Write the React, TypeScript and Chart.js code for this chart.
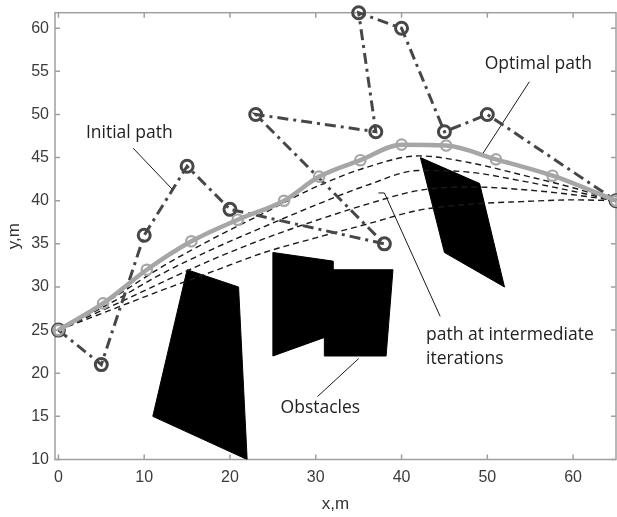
import React, { useEffect, useRef } from "react";
import { Chart, registerables } from "chart.js";

Chart.register(...registerables);

// Axis ticks
const xTicks = [0, 10, 20, 30, 40, 50, 60];
const yTicks = [10, 15, 20, 25, 30, 35, 40, 45, 50, 55, 60];

// Initial (random) path through the waypoints
const initialX = [0, 5, 10, 15, 20, 38, 23, 37, 35, 40, 45, 50, 65];
const initialY = [25, 21, 36, 44, 39, 35, 50, 48, 61.8, 60, 48, 50, 40];

// Optimal path after convergence
const optimalX = [0, 5.2, 10.3, 15.5, 20.9, 26.3, 30.4, 35.2, 40, 45.2, 51, 57.6, 65];
const optimalY = [25, 28.1, 32, 35.3, 37.8, 40, 42.8, 44.7, 46.5, 46.4, 44.8, 42.9, 40];

// Paths at intermediate iterations (shared x grid)
const iterX = [0, 6, 12, 18, 24, 30, 36, 42, 48, 54, 60, 65];
const iter1Y = [25, 27.3, 29.6, 31.8, 34.0, 35.7, 37.3, 38.9, 39.6, 39.9, 40.1, 40];
const iter2Y = [25, 27.7, 30.5, 33.2, 35.6, 37.7, 39.6, 41.2, 41.6, 41.3, 40.7, 40];
const iter3Y = [25, 28.1, 31.5, 34.4, 37.0, 39.5, 41.8, 43.5, 43.3, 42.3, 41.1, 40];
const iter4Y = [25, 28.5, 32.3, 35.6, 38.6, 41.6, 43.9, 45.2, 44.4, 43.0, 41.5, 40];

// Obstacles (polygon vertices)
const obstacle1X = [15, 21, 22, 11];
const obstacle1Y = [32, 30, 10, 15];
const obstacle2X = [25, 32, 32, 25];
const obstacle2Y = [34, 33, 24.5, 22];
const obstacle3X = [31, 39, 38.2, 31];
const obstacle3Y = [32, 32, 22, 22];
const obstacle4X = [42.2, 49.1, 52, 45];
const obstacle4Y = [45, 42, 30, 34];

// Callout leader lines
const leaderInitialX = [8.7, 13.3];
const leaderInitialY = [46.1, 41.3];
const leaderOptimalX = [54.9, 49.3];
const leaderOptimalY = [53.8, 45.2];
const leaderIterX = [37.3, 38.0, 44.5];
const leaderIterY = [40.9, 40.9, 26.6];
const leaderObstX = [30.2, 35.0];
const leaderObstY = [17.3, 21.7];

// Callout texts
const calloutTexts = ["Initial path", "Optimal path", "path at intermediate", "iterations", "Obstacles"];
const calloutX = [3.2, 49.7, 42.85, 42.85, 25.9];
const calloutY = [47.9, 55.8, 24.4, 21.7, 16.0];

const pts = (xs: number[], ys: number[]) => xs.map((x, i) => ({ x, y: ys[i] }));
const closed = (xs: number[], ys: number[]) => {
  const p = pts(xs, ys);
  return [...p, p[0]];
};

const framePlugin = {
  id: "frame",
  beforeDatasetsDraw(chart: any) {
    const { ctx, chartArea: a, scales } = chart;
    ctx.save();
    ctx.strokeStyle = "#a0a0a0";
    ctx.lineWidth = 1.5;
    ctx.strokeRect(a.left, a.top, a.right - a.left, a.bottom - a.top);
    const L = 5;
    ctx.beginPath();
    xTicks.forEach((v) => {
      const px = scales.x.getPixelForValue(v);
      ctx.moveTo(px, a.bottom);
      ctx.lineTo(px, a.bottom - L);
      ctx.moveTo(px, a.top);
      ctx.lineTo(px, a.top + L);
    });
    yTicks.forEach((v) => {
      const py = scales.y.getPixelForValue(v);
      ctx.moveTo(a.left, py);
      ctx.lineTo(a.left + L, py);
      ctx.moveTo(a.right, py);
      ctx.lineTo(a.right - L, py);
    });
    ctx.stroke();
    ctx.restore();
  },
  afterDatasetsDraw(chart: any) {
    const { ctx, scales } = chart;
    ctx.save();
    ctx.fillStyle = "#222";
    ctx.font = '17.5px "Open Sans"';
    ctx.textAlign = "left";
    ctx.textBaseline = "middle";
    calloutTexts.forEach((t, i) => {
      ctx.fillText(t, scales.x.getPixelForValue(calloutX[i]), scales.y.getPixelForValue(calloutY[i]));
    });
    ctx.restore();
  },
};

export default function App() {
  const ref = useRef<HTMLCanvasElement | null>(null);

  useEffect(() => {
    if (!ref.current) return;

    const iterStyle = {
      borderColor: "#1a1a1a",
      borderWidth: 1.4,
      borderDash: [6, 4],
      pointRadius: 0,
      cubicInterpolationMode: "monotone" as const,
      fill: false,
    };
    const obstacleStyle = {
      borderColor: "#000",
      backgroundColor: "#000",
      borderWidth: 1,
      pointRadius: 0,
      fill: "shape" as const,
      tension: 0,
    };
    const leaderStyle = {
      borderColor: "#1a1a1a",
      borderWidth: 1,
      pointRadius: 0,
      fill: false,
      tension: 0,
    };

    const chart = new Chart(ref.current, {
      type: "line",
      data: {
        datasets: [
          {
            label: "Optimal path",
            data: pts(optimalX, optimalY),
            borderColor: "#a6a6a6",
            borderWidth: 4.5,
            pointRadius: 5.2,
            pointBorderWidth: 2.2,
            pointBorderColor: "#a6a6a6",
            pointBackgroundColor: "rgba(255,255,255,0)",
            cubicInterpolationMode: "monotone",
            fill: false,
            clip: false,
          },
          {
            label: "Initial path",
            data: pts(initialX, initialY),
            borderColor: "#474747",
            borderWidth: 3,
            borderDash: [11, 5, 3, 5],
            pointRadius: 6,
            pointBorderWidth: 3,
            pointBorderColor: "#474747",
            pointBackgroundColor: "rgba(255,255,255,0)",
            tension: 0,
            fill: false,
            clip: false,
          },
          { label: "iter4", data: pts(iterX, iter4Y), ...iterStyle },
          { label: "iter3", data: pts(iterX, iter3Y), ...iterStyle },
          { label: "iter2", data: pts(iterX, iter2Y), ...iterStyle },
          { label: "iter1", data: pts(iterX, iter1Y), ...iterStyle },
          { label: "obs1", data: closed(obstacle1X, obstacle1Y), ...obstacleStyle },
          { label: "obs2", data: closed(obstacle2X, obstacle2Y), ...obstacleStyle },
          { label: "obs3", data: closed(obstacle3X, obstacle3Y), ...obstacleStyle },
          { label: "obs4", data: closed(obstacle4X, obstacle4Y), ...obstacleStyle },
          { label: "l1", data: pts(leaderInitialX, leaderInitialY), ...leaderStyle },
          { label: "l2", data: pts(leaderOptimalX, leaderOptimalY), ...leaderStyle },
          { label: "l3", data: pts(leaderIterX, leaderIterY), ...leaderStyle },
          { label: "l4", data: pts(leaderObstX, leaderObstY), ...leaderStyle },
        ] as any,
      },
      options: {
        animation: false,
        responsive: false,
        devicePixelRatio: 1,
        events: [],
        layout: { autoPadding: false, padding: { left: 0, right: 1, top: 12.7, bottom: 0 } },
        plugins: { legend: { display: false }, tooltip: { enabled: false } },
        scales: {
          x: {
            type: "linear",
            min: -0.4,
            max: 65,
            afterBuildTicks: (s: any) => {
              s.ticks = xTicks.map((v) => ({ value: v }));
            },
            afterFit: (s: any) => {
              s.height = 57.5;
              s.paddingLeft = 0;
              s.paddingRight = 0;
            },
            grid: { display: false, drawTicks: false },
            border: { display: false },
            ticks: {
              autoSkip: false,
              maxRotation: 0,
              padding: 8,
              color: "#3c3c3c",
              font: { family: "Liberation Sans", size: 16 },
            },
            title: {
              display: true,
              text: "x,m",
              color: "#333",
              font: { family: "Liberation Sans", size: 17 },
              padding: { top: 0, bottom: 2 },
            },
          },
          y: {
            type: "linear",
            min: 10,
            max: 61.8,
            afterBuildTicks: (s: any) => {
              s.ticks = yTicks.map((v) => ({ value: v }));
            },
            afterFit: (s: any) => {
              s.width = 55;
              s.paddingTop = 0;
              s.paddingBottom = 0;
            },
            grid: { display: false, drawTicks: false },
            border: { display: false },
            ticks: {
              autoSkip: false,
              padding: 6,
              color: "#3c3c3c",
              font: { family: "Liberation Sans", size: 16 },
            },
            title: {
              display: true,
              text: "y,m",
              color: "#333",
              font: { family: "Liberation Sans", size: 17 },
              padding: { top: 4, bottom: 0 },
            },
          },
        },
      },
      plugins: [framePlugin],
    });

    return () => chart.destroy();
  }, []);

  return (
    <div style={{ position: "fixed", left: 0, top: 0, width: 617, height: 517, background: "#fff" }}>
      <canvas ref={ref} width={617} height={517} />
    </div>
  );
}
